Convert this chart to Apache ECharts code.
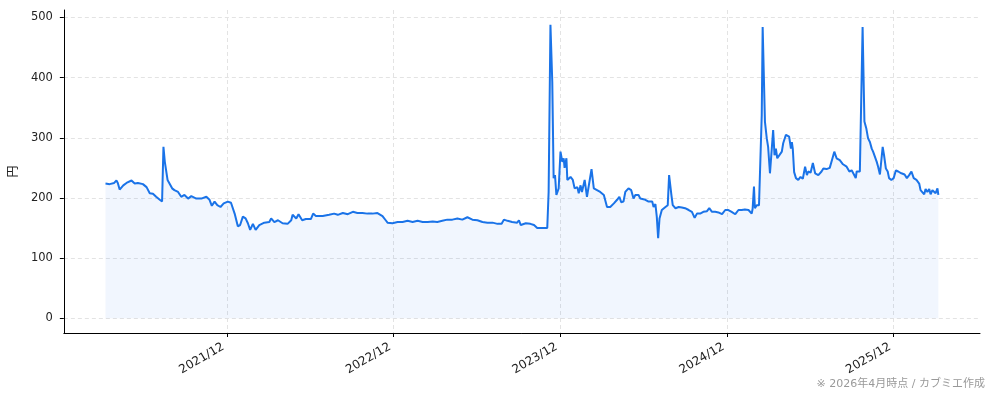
<!DOCTYPE html>
<html>
<head>
<meta charset="utf-8">
<script src="https://cdn.jsdelivr.net/npm/echarts@6.0.0/dist/echarts.min.js"></script>
<style>
html,body{margin:0;padding:0;background:#fff;}
#c{width:994px;height:401px;}
</style>
</head>
<body>
<div id="c"></div>
<script>
const tickDates = ['2021-12-01','2022-12-01','2023-12-01','2024-12-01','2025-12-01'];
const yTicks = [0,100,200,300,400,500];
const yAxisName = '円';
const footnote = '※ 2026年4月時点 / カブミエ作成';

const dates = [
'2021-03-10','2021-03-19','2021-03-29','2021-04-03','2021-04-06','2021-04-10','2021-04-18','2021-04-25','2021-05-06','2021-05-13',
'2021-05-20','2021-05-31','2021-06-08','2021-06-15','2021-06-22','2021-06-29','2021-07-07','2021-07-12','2021-07-15','2021-07-18',
'2021-07-21','2021-07-24','2021-07-28','2021-08-03','2021-08-08','2021-08-16','2021-08-23','2021-08-30','2021-09-07','2021-09-14',
'2021-09-25','2021-10-06','2021-10-17','2021-10-24','2021-10-29','2021-11-04','2021-11-10','2021-11-17','2021-11-24','2021-12-03',
'2021-12-10','2021-12-18','2021-12-25','2021-12-30','2022-01-05','2022-01-11','2022-01-16','2022-01-21','2022-01-27','2022-02-02',
'2022-02-10','2022-02-21','2022-03-04','2022-03-08','2022-03-15','2022-03-23','2022-04-02','2022-04-13','2022-04-21','2022-04-24',
'2022-05-02','2022-05-07','2022-05-15','2022-05-23','2022-06-03','2022-06-08','2022-06-14','2022-06-29','2022-07-13','2022-07-24',
'2022-08-01','2022-08-12','2022-08-23','2022-09-03','2022-09-13','2022-09-24','2022-10-05','2022-10-16','2022-10-27','2022-11-07',
'2022-11-14','2022-11-18','2022-11-29','2022-12-10','2022-12-21','2023-01-01','2023-01-12','2023-01-23','2023-02-03','2023-02-14',
'2023-02-25','2023-03-07','2023-03-18','2023-03-29','2023-04-09','2023-04-20','2023-05-01','2023-05-12','2023-05-23','2023-06-03',
'2023-06-14','2023-06-25','2023-07-06','2023-07-17','2023-07-26','2023-07-31','2023-08-08','2023-08-18','2023-08-29','2023-09-02',
'2023-09-06','2023-09-17','2023-09-27','2023-10-05','2023-10-12','2023-10-23','2023-11-03','2023-11-06','2023-11-10','2023-11-14',
'2023-11-17','2023-11-20','2023-11-23','2023-11-28','2023-12-02','2023-12-06','2023-12-09','2023-12-11','2023-12-15','2023-12-17',
'2023-12-24','2023-12-29','2024-01-02','2024-01-08','2024-01-11','2024-01-15','2024-01-18','2024-01-24','2024-01-29','2024-02-02',
'2024-02-08','2024-02-13','2024-02-20','2024-02-27','2024-03-06','2024-03-09','2024-03-13','2024-03-20','2024-03-28','2024-04-04',
'2024-04-09','2024-04-13','2024-04-18','2024-04-22','2024-04-29','2024-05-05','2024-05-10','2024-05-14','2024-05-18','2024-05-21',
'2024-05-25','2024-05-29','2024-06-05','2024-06-12','2024-06-20','2024-06-23','2024-06-27','2024-06-30','2024-07-03','2024-07-06',
'2024-07-11','2024-07-19','2024-07-24','2024-07-27','2024-08-01','2024-08-04','2024-08-10','2024-08-17','2024-08-24','2024-08-31',
'2024-09-08','2024-09-15','2024-09-21','2024-09-26','2024-10-03','2024-10-10','2024-10-18','2024-10-23','2024-10-29','2024-11-05',
'2024-11-12','2024-11-20','2024-11-27','2024-12-04','2024-12-11','2024-12-19','2024-12-26','2025-01-02','2025-01-09','2025-01-17',
'2025-01-24','2025-01-26','2025-01-29','2025-01-31','2025-02-04','2025-02-09','2025-02-12','2025-02-15','2025-02-17','2025-02-19',
'2025-02-22','2025-02-26','2025-03-01','2025-03-05','2025-03-09','2025-03-12','2025-03-15','2025-03-18','2025-03-21','2025-03-25',
'2025-03-31','2025-04-03','2025-04-09','2025-04-13','2025-04-16','2025-04-20','2025-04-22','2025-04-24','2025-04-27','2025-05-01',
'2025-05-06','2025-05-11','2025-05-16','2025-05-21','2025-05-25','2025-05-28','2025-06-02','2025-06-07','2025-06-12','2025-06-19',
'2025-06-26','2025-06-30','2025-07-07','2025-07-14','2025-07-20','2025-07-24','2025-07-29','2025-08-05','2025-08-12','2025-08-20',
'2025-08-26','2025-08-31','2025-09-05','2025-09-09','2025-09-11','2025-09-14','2025-09-18','2025-09-20','2025-09-22','2025-09-24',
'2025-09-26','2025-09-28','2025-10-02','2025-10-06','2025-10-10','2025-10-14','2025-10-17','2025-10-21','2025-10-25','2025-10-28',
'2025-11-01','2025-11-04','2025-11-07','2025-11-10','2025-11-14','2025-11-18','2025-11-21','2025-11-26','2025-12-01','2025-12-06',
'2025-12-11','2025-12-18','2025-12-25','2025-12-30','2026-01-04','2026-01-09','2026-01-14','2026-01-20','2026-01-26','2026-01-29',
'2026-02-02','2026-02-06','2026-02-09','2026-02-13','2026-02-17','2026-02-20','2026-02-24','2026-02-28','2026-03-03','2026-03-07',
'2026-03-09'
];

const prices = [
224,223,225,229,225,214,221,225,229,224,
225,223,218,208,207,202,197,194,285,260,
262,230,227,216,213,210,202,205,199,203,
199,199,202,197,187,194,188,185,191,194,
192,174,153,155,169,166,158,147,157,147,
155,159,160,166,160,163,158,157,163,172,
166,173,163,165,165,174,170,170,172,174,
172,175,173,177,175,175,174,174,175,170,
163,159,158,160,160,162,160,162,160,160,
161,160,162,164,164,166,164,168,164,163,
160,159,159,157,157,164,162,160,159,163,
155,158,157,155,150,150,150,210,488,393,
233,238,205,216,277,260,266,250,266,230,
235,230,216,218,208,221,210,230,202,202,
248,216,213,210,205,207,185,185,191,197,
202,193,194,210,216,213,199,205,203,205,
199,202,197,194,194,185,190,169,133,166,
180,185,188,238,205,188,183,185,184,183,
180,177,167,174,174,177,178,183,177,177,
176,173,180,180,177,173,180,180,181,180,
174,182,219,183,188,188,188,338,484,484,
327,299,285,241,282,313,271,282,266,268,
277,291,305,307,302,282,293,282,243,233,
230,235,232,252,238,244,242,258,241,238,
244,249,248,250,266,277,266,263,256,252,
244,246,239,233,244,242,244,324,327,484,
484,327,316,299,293,282,277,280,260,252,
239,238,285,271,249,244,233,230,233,246,
244,241,239,233,238,244,233,230,224,213,
216,206,215,210,215,206,213,210,208,216,
205
];

const lineColor = '#1a73e8';
const ts = dates.map(d => new Date(d + 'T00:00:00Z').getTime());
const seriesData = ts.map((t, i) => [t, prices[i]]);
const tMin = Math.min(...ts), tMax = Math.max(...ts);
const tPad = (tMax - tMin) * 0.05;
const pMax = Math.max(...prices);
const yPad = pMax * 0.05;
const tickTs = tickDates.map(d => new Date(d + 'T00:00:00Z').getTime());

const chart = echarts.init(document.getElementById('c'), null, {renderer: 'canvas'});
const font = '"DejaVu Sans", "Noto Sans CJK JP", sans-serif';
chart.setOption({
  animation: false,
  backgroundColor: '#ffffff',
  textStyle: {fontFamily: font},
  grid: {left: 62, right: 14, top: 10, bottom: 68, containLabel: false},
  xAxis: {
    type: 'value',
    min: tMin - tPad,
    max: tMax + tPad,
    axisLine: {show: true, onZero: false, lineStyle: {color: '#000', width: 1}},
    axisTick: {show: true, length: 4, customValues: tickTs, lineStyle: {color: '#000'}},
    axisLabel: {
      customValues: tickTs,
      rotate: 30,
      margin: 11,
      padding: [0, 4, 0, 0],
      fontSize: 12,
      color: '#222',
      fontFamily: font,
      formatter: v => {
        const d = new Date(v);
        return d.getUTCFullYear() + '/' + String(d.getUTCMonth() + 1).padStart(2, '0');
      }
    },
    splitLine: {show: true, lineStyle: {color: '#e3e3e3', type: [4, 3], width: 1}}
  },
  yAxis: {
    type: 'value',
    min: -yPad,
    max: pMax + yPad,
    name: yAxisName,
    nameLocation: 'middle',
    nameRotate: 90,
    nameGap: 39,
    nameTextStyle: {fontSize: 12, color: '#222', fontFamily: font},
    axisLine: {show: true, onZero: false, lineStyle: {color: '#000', width: 1}},
    axisTick: {show: true, length: 4, customValues: yTicks, lineStyle: {color: '#000'}},
    axisLabel: {customValues: yTicks, margin: 11, fontSize: 11.5, color: '#222', fontFamily: font},
    splitLine: {show: true, lineStyle: {color: '#e3e3e3', type: [4, 3], width: 1}}
  },
  series: [{
    type: 'line',
    data: seriesData,
    showSymbol: false,
    symbol: 'none',
    lineStyle: {color: lineColor, width: 2},
    areaStyle: {color: 'rgba(26,115,232,0.09)', origin: 0},
    itemStyle: {color: lineColor}
  }],
  graphic: [{
    type: 'text',
    right: 9,
    top: 379,
    style: {text: footnote, fill: '#999', fontSize: 11, fontFamily: font}
  }]
});
</script>
</body>
</html>
